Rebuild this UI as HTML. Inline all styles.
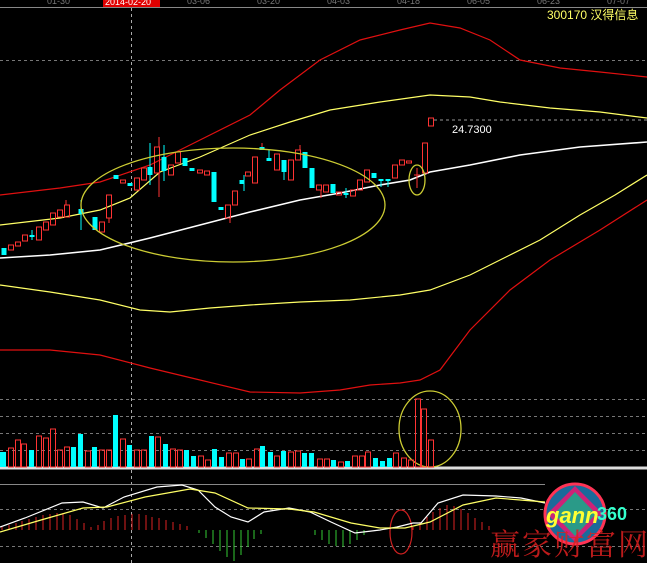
<!DOCTYPE html>
<html><head><meta charset="utf-8"><style>
html,body{margin:0;padding:0;background:#000;}
svg{display:block;}
</style></head><body>
<svg width="647" height="563" viewBox="0 0 647 563" xmlns="http://www.w3.org/2000/svg" font-family="Liberation Sans, Noto Sans CJK SC, sans-serif">
<rect width="647" height="563" fill="#000"/>
<!-- top axis -->
<line x1="0" y1="7.5" x2="647" y2="7.5" stroke="#888" stroke-width="1"/>
<g fill="#777" font-size="9">
<text x="47" y="4">01-30</text><text x="187" y="4">03-06</text><text x="257" y="4">03-20</text><text x="327" y="4">04-03</text><text x="397" y="4">04-18</text><text x="467" y="4">06-05</text><text x="537" y="4">06-23</text><text x="607" y="4">07-07</text>
</g>
<rect x="103" y="0" width="57" height="7" fill="#e00000"/>
<text x="105" y="5" fill="#fff" font-size="9">2014-02-20</text>
<text x="547" y="19" fill="#ffff66" font-size="12">300170 汉得信息</text>
<!-- dashed grid -->
<g stroke="#777" stroke-dasharray="3,3" stroke-width="1">
<line x1="0" y1="60.5" x2="647" y2="60.5"/>
<line x1="0" y1="399.5" x2="647" y2="399.5"/>
<line x1="0" y1="416.5" x2="647" y2="416.5"/>
<line x1="0" y1="433.5" x2="647" y2="433.5"/>
<line x1="0" y1="450.5" x2="647" y2="450.5"/>
<line x1="0" y1="509.5" x2="647" y2="509.5"/>
<line x1="0" y1="546.5" x2="647" y2="546.5"/>
<line x1="131.5" y1="8" x2="131.5" y2="563" stroke="#aaa"/>
</g>
<line x1="0" y1="484.5" x2="545" y2="484.5" stroke="#888"/>
<line x1="0" y1="468" x2="647" y2="468" stroke="#ddd" stroke-width="3"/>
<!-- bands -->
<g fill="none" stroke-width="1.2">
<polyline stroke="#e01010" points="0,195 60,188 100,182 150,165 200,140 250,115 280,90 320,60 360,40 400,30 430,23 460,28 490,40 520,60 560,68 600,72 647,77"/>
<polyline stroke="#ffff66" points="0,225 60,218 100,210 130,198 160,172 200,157 250,135 290,122 330,110 380,102 430,95 470,97 500,102 550,108 600,112 647,118"/>
<polyline stroke="#ffffff" stroke-width="1.6" points="0,258 50,255 100,250 150,238 200,225 250,212 300,200 340,193 380,185 410,180 430,172 470,165 520,155 580,147 647,142"/>
<polyline stroke="#ffff66" points="0,285 50,292 100,300 140,310 170,312 210,308 250,305 300,302 350,300 400,295 430,290 470,275 500,260 540,240 580,215 615,195 647,175"/>
<polyline stroke="#e01010" points="0,350 50,350 100,355 150,368 200,380 250,392 300,393 340,390 370,385 400,383 420,380 440,370 470,330 510,290 550,260 600,230 647,200"/>
</g>
<!-- candles red (hollow) -->
<path fill="none" stroke="#ff3333" stroke-width="1" d="M8.5 245h5v5h-5z M15.5 242h5v4h-5z M22.5 235h5v6h-5z M36.5 227h5v13h-5z M43.5 222h5v8h-5z M50.5 213h5v12h-5z M57.5 210h5v7h-5z M64.5 205h5v12h-5z M99.5 222h5v10h-5z M106.5 195h5v23h-5z M120.5 180h5v3h-5z M134.5 178h5v12h-5z M141.5 168h5v12h-5z M154.5 147h5v26h-5z M168.5 165h5v10h-5z M175.5 152h5v11h-5z M197.5 170h5v3h-5z M204.5 171h5v4h-5z M225.5 205h5v13h-5z M232.5 191h5v14h-5z M245.5 172h5v4h-5z M252.5 157h5v26h-5z M274.5 154h5v16h-5z M288.5 160h5v20h-5z M295.5 150h5v10h-5z M316.5 185h5v5h-5z M323.5 185h5v7h-5z M336.5 192h5v3h-5z M350.5 190h5v6h-5z M357.5 180h5v10h-5z M364.5 170h5v12h-5z M392.5 165h5v13h-5z M399.5 160h5v5h-5z M406.5 161h5v2h-5z M422.5 143h5v30h-5z M428.5 118h5v8h-5z"/>
<path stroke="#ff3333" stroke-width="1" d="M159 137v10M159 173v24M66 200v5M417 168v20M414 175h6M300 145v5M109 218v5M230 218v5M262 143v5M321 190v8"/>
<!-- candles cyan -->
<path fill="#00ffff" d="M1.5 248h5v7h-5z M29.5 235h5v2h-5z M78.5 209h5v5h-5z M92.5 217h5v13h-5z M113.5 175h5v4h-5z M127.5 183h5v3h-5z M147.5 167h5v8h-5z M161.5 157h5v14h-5z M182.5 158h5v8h-5z M189.5 168h5v3h-5z M211.5 172h5v30h-5z M218.5 207h5v3h-5z M239.5 180h5v4h-5z M259.5 147h5v3h-5z M266.5 158h5v3h-5z M281.5 160h5v12h-5z M302.5 152h5v16h-5z M309.5 168h5v20h-5z M330.5 184h5v9h-5z M343.5 193h5v2h-5z M371.5 173h5v5h-5z M378.5 179h5v2h-5z M385.5 179h5v2h-5z"/>
<path stroke="#00ffff" stroke-width="1" d="M81 200v30M150 143v42M164 145v12M164 171v10M244 175v16M269 150v8M284 172v8M346 188v10M381 181v6M388 181v6M32 230v10"/>
<!-- last price -->
<line x1="434" y1="120" x2="647" y2="120" stroke="#999" stroke-dasharray="3,3"/>
<text x="452" y="133" fill="#fff" font-size="11">24.7300</text>
<!-- ellipses -->
<g fill="none" stroke="#cccc33" stroke-width="1.3">
<ellipse cx="233" cy="205" rx="152" ry="57"/>
<ellipse cx="417" cy="180" rx="8" ry="15"/>
<ellipse cx="430" cy="429" rx="31" ry="38"/>
</g>
<ellipse cx="401" cy="532" rx="11" ry="22" fill="none" stroke="#cc2020" stroke-width="1.2"/>
<!-- volume cyan -->
<path fill="#00ffff" d="M0 452h6v15h-6z M29 450h5v17h-5z M71 447h5v20h-5z M78 434h5v33h-5z M92 447h5v20h-5z M113 415h5v52h-5z M127 445h5v22h-5z M149 436h5v31h-5z M163 444h5v23h-5z M184 450h5v17h-5z M191 456h5v11h-5z M212 449h5v18h-5z M219 457h5v10h-5z M240 459h5v8h-5z M260 446h5v21h-5z M268 452h5v15h-5z M281 451h5v16h-5z M302 453h5v14h-5z M309 453h5v14h-5z M331 460h5v7h-5z M345 461h5v6h-5z M373 458h5v9h-5z M380 461h5v6h-5z M387 458h5v9h-5z"/>
<path fill="none" stroke="#ff3333" d="M8.5 448h5v19h-5z M15.5 440h5v27h-5z M21.5 444h5v23h-5z M36.5 436h5v31h-5z M43.5 438h5v29h-5z M50.5 429h5v38h-5z M57.5 450h5v17h-5z M64.5 447h5v20h-5z M85.5 451h5v16h-5z M99.5 450h5v17h-5z M106.5 450h5v17h-5z M120.5 439h5v28h-5z M134.5 450h5v17h-5z M141.5 450h5v17h-5z M155.5 437h5v30h-5z M170.5 449h5v18h-5z M177.5 450h5v17h-5z M198.5 456h5v11h-5z M205.5 460h5v7h-5z M226.5 453h5v14h-5z M233.5 453h5v14h-5z M246.5 459h5v8h-5z M254.5 449h5v18h-5z M274.5 456h5v11h-5z M288.5 452h5v15h-5z M295.5 451h5v16h-5z M317.5 459h5v8h-5z M324.5 459h5v8h-5z M338.5 462h5v5h-5z M352.5 456h5v11h-5z M359.5 456h5v11h-5z M365.5 452h5v15h-5z M393.5 453h5v14h-5z M401.5 458h5v9h-5z M408.5 460h5v7h-5z M415.5 399h5v68h-5z M421.5 409h5v58h-5z M428.5 440h5v27h-5z"/>
<!-- MACD histogram -->
<path stroke="#dd2222" stroke-width="1" d="M2 530v-3M9 530v-5M16 530v-7M22 530v-9M29 530v-11M36 530v-13M43 530v-15M50 530v-16M57 530v-17M63 530v-17M70 530v-15M77 530v-11M84 530v-7M91 530v-3M98 530v-5M104 530v-9M111 530v-12M118 530v-14M125 530v-15M132 530v-16M139 530v-16M146 530v-15M152 530v-13M159 530v-12M166 530v-10M173 530v-8M180 530v-6M187 530v-4M413 530v-3M420 530v-8M427 530v-13M433 530v-18M440 530v-22M447 530v-25M454 530v-24M461 530v-21M468 530v-17M475 530v-12M482 530v-8M489 530v-4"/>
<path stroke="#33cc33" stroke-width="1" d="M199 530v3M206 530v8M213 530v14M220 530v21M227 530v27M234 530v31M241 530v25M248 530v17M254 530v9M261 530v4M315 530v5M322 530v10M329 530v14M336 530v16M343 530v17M350 530v14M357 530v10M364 530v5"/>
<g fill="none" stroke-width="1.2">
<polyline stroke="#ffffff" points="0,527 25,518 62,503 83,502 103,508 124,497 157,487 182,485 198,490 215,507 231,517 248,522 264,512 289,508 310,512 331,522 355,533 380,530 397,527 413,523 421,523 438,503 463,495 496,496 521,498 545,503"/>
<polyline stroke="#ffff66" points="0,532 41,520 83,508 107,507 145,497 190,489 215,493 248,508 289,509 314,512 351,523 380,528 405,528 430,522 463,505 496,498 545,502"/>
</g>
<!-- logo -->
<circle cx="575" cy="514" r="30" fill="#1a6a9a" stroke="#ff3355" stroke-width="3"/>
<polygon points="575,486 603,514 575,542 547,514" fill="#cc2277"/>
<polygon points="575,492 596,514 575,536 554,514" fill="#2a9a88"/>
<text x="546" y="523" fill="#ffff33" font-size="22" font-style="italic" font-weight="bold">gann</text>
<text x="597" y="520" fill="#33ffcc" font-size="18" font-weight="bold">360</text>
<text x="490" y="555" fill="#dd2020" font-size="30" font-family="Noto Serif CJK SC, serif" letter-spacing="2" opacity="0.85">赢家财富网</text>
</svg>
</body></html>
